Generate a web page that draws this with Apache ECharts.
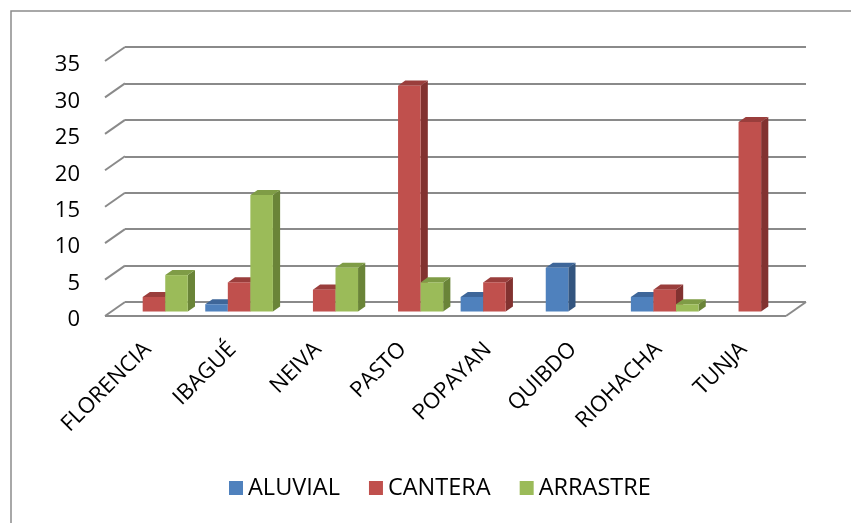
<!DOCTYPE html>
<html>
<head>
<meta charset="utf-8">
<script src="https://cdn.jsdelivr.net/npm/echarts@6/dist/echarts.min.js"></script>
<style>
  html, body { margin: 0; padding: 0; background: #fff; }
  #chart { width: 851px; height: 523px; }
</style>
</head>
<body>
<div id="chart"></div>
<script>
// Categories and series values
const categories = ['FLORENCIA', 'IBAGUÉ', 'NEIVA', 'PASTO', 'POPAYAN', 'QUIBDO', 'RIOHACHA', 'TUNJA'];
const aluvial  = [0, 1, 0, 0, 2, 6, 2, 0];
const cantera  = [2, 4, 3, 31, 4, 0, 3, 26];
const arrastre = [5, 16, 6, 4, 0, 0, 1, 0];
const yTicks   = [0, 5, 10, 15, 20, 25, 30, 35];

const seriesNames = ['ALUVIAL', 'CANTERA', 'ARRASTRE'];
const seriesValues = [aluvial, cantera, arrastre];

// Face colours: front, top, side
const palettes = [
  { front: '#4F81BD', top: '#3E6699', side: '#33557F' },
  { front: '#C0504D', top: '#9A3E3C', side: '#823230' },
  { front: '#9BBB59', top: '#7F9C46', side: '#6A8438' }
];

// Oblique depth of the floor (back wall -> front edge)
const DEPTH_DX = -20, DEPTH_DY = 14;
// Bars occupy the middle of the depth
const BAR_FRONT = 0.68, BAR_BACK = 0.32;
const FONT = '"Open Sans", "Noto Sans", sans-serif';

function barRenderer(slot, pal) {
  return function (params, api) {
    const cat = api.value(0);
    const val = api.value(1);
    if (!val) return null;
    const base = api.coord([cat, 0]);
    const top = api.coord([cat, val]);
    const cw = api.size([1, 0])[0];
    const bw = cw * 0.265;
    const x0 = base[0] + (slot - 1.5) * bw;
    const fdx = DEPTH_DX * BAR_FRONT, fdy = DEPTH_DY * BAR_FRONT;
    const bdx = DEPTH_DX * BAR_BACK, bdy = DEPTH_DY * BAR_BACK;
    const fx = x0 + fdx, fy0 = base[1] + fdy, fy1 = top[1] + fdy;
    const bx = x0 + bdx, by0 = base[1] + bdy, by1 = top[1] + bdy;
    return {
      type: 'group',
      children: [
        { type: 'polygon', shape: { points: [[fx + bw, fy1], [fx + bw, fy0], [bx + bw, by0], [bx + bw, by1]] },
          style: { fill: pal.side } },
        { type: 'polygon', shape: { points: [[fx, fy1], [fx + bw, fy1], [bx + bw, by1], [bx, by1]] },
          style: { fill: pal.top } },
        { type: 'rect', shape: { x: fx, y: fy1, width: bw, height: fy0 - fy1 },
          style: { fill: pal.front } }
      ]
    };
  };
}

// Left-side diagonals of the gridlines and the floor outline
function frameRenderer(params, api) {
  const v = api.value(0);
  const cs = params.coordSys;
  const y = api.coord([0, v])[1];
  const lineStyle = { stroke: '#8a8a8a', lineWidth: 2 };
  const children = [
    { type: 'line', shape: { x1: cs.x, y1: y, x2: cs.x + DEPTH_DX, y2: y + DEPTH_DY }, style: lineStyle }
  ];
  if (v === 0) {
    const xr = cs.x + cs.width;
    children.push(
      { type: 'line', shape: { x1: cs.x + DEPTH_DX, y1: y + DEPTH_DY, x2: xr + DEPTH_DX, y2: y + DEPTH_DY }, style: lineStyle },
      { type: 'line', shape: { x1: xr + DEPTH_DX, y1: y + DEPTH_DY, x2: xr, y2: y }, style: lineStyle }
    );
  }
  return { type: 'group', children: children };
}

const series = seriesNames.map((name, s) => ({
  name: name,
  type: 'custom',
  xAxisIndex: 0,
  yAxisIndex: 0,
  renderItem: barRenderer(s, palettes[s]),
  itemStyle: { color: palettes[s].front },
  encode: { x: 0, y: 1 },
  data: seriesValues[s].map((v, i) => [i, v]),
  z: 3
}));

series.unshift({
  name: 'frame',
  type: 'custom',
  xAxisIndex: 0,
  yAxisIndex: 0,
  renderItem: frameRenderer,
  encode: { y: 0 },
  data: yTicks.map(v => [v]),
  silent: true,
  z: 1
});

const chart = echarts.init(document.getElementById('chart'), null, { renderer: 'canvas' });
chart.setOption({
  animation: false,
  backgroundColor: '#fff',
  graphic: [{
    type: 'rect',
    shape: { x: 11, y: 11, width: 1000, height: 1000 },
    style: { fill: 'none', stroke: '#8c8c8c', lineWidth: 1.5 },
    silent: true
  }],
  legend: {
    data: seriesNames,
    left: 224,
    top: 471,
    icon: 'rect',
    itemWidth: 14,
    itemHeight: 14,
    itemGap: 29,
    textStyle: { fontFamily: FONT, fontSize: 23.5, color: '#000' }
  },
  grid: [
    // back wall
    { left: 125, right: 45, top: 47, bottom: 221 },
    // front edge of the floor (category labels)
    { left: 125 + DEPTH_DX, right: 45 - DEPTH_DX, top: 47 + DEPTH_DY, bottom: 221 - DEPTH_DY },
    // value labels, set slightly below the front edge
    { left: 125 + DEPTH_DX, right: 45 - DEPTH_DX, top: 47 + DEPTH_DY + 4, bottom: 221 - DEPTH_DY - 4 }
  ],
  xAxis: [
    { gridIndex: 0, type: 'category', data: categories,
      axisLine: { show: false }, axisTick: { show: false }, axisLabel: { show: false } },
    { gridIndex: 1, type: 'category', data: categories,
      axisLine: { show: false }, axisTick: { show: false },
      axisLabel: { rotate: 45, margin: 30, interval: 0,
        fontFamily: FONT, fontSize: 22, color: '#000' } },
    { gridIndex: 2, type: 'category', data: categories, show: false }
  ],
  yAxis: [
    { gridIndex: 0, type: 'value', min: 0, max: 35, interval: 5,
      axisLine: { show: false }, axisTick: { show: false }, axisLabel: { show: false },
      splitLine: { show: true, lineStyle: { color: '#8a8a8a', width: 2 } } },
    { gridIndex: 1, type: 'value', min: 0, max: 35, interval: 5, show: false },
    { gridIndex: 2, type: 'value', min: 0, max: 35, interval: 5,
      axisLine: { show: false }, axisTick: { show: false }, splitLine: { show: false },
      axisLabel: { margin: 25, fontFamily: FONT, fontSize: 22, color: '#000' } }
  ],
  series: series
});
</script>
</body>
</html>
